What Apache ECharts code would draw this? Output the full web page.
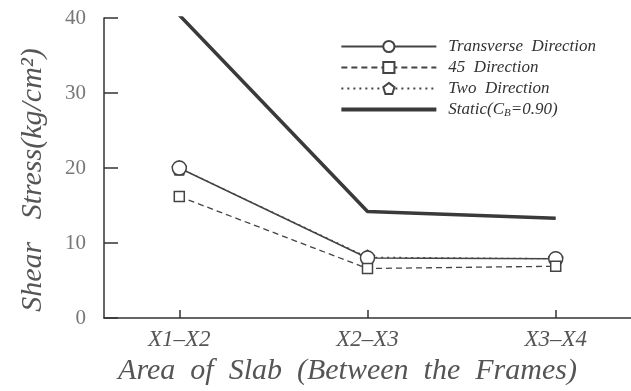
<!DOCTYPE html>
<html>
<head>
<meta charset="utf-8">
<script src="https://cdn.jsdelivr.net/npm/echarts@6/dist/echarts.min.js"></script>
<style>
html,body{margin:0;padding:0;background:#fff;}
#chart{width:631px;height:391px;}
</style>
</head>
<body>
<div id="chart"></div>
<script>
// data
var categories = ['X1\u2013X2', 'X2\u2013X3', 'X3\u2013X4']
var transverse = [20, 8.0, 7.9]
var dir45 = [16.2, 6.6, 6.9]
var twoDir = [20, 8.1, 7.9]
var staticCb = [40.4, 14.2, 13.3]
var yTicks = [0, 10, 20, 30, 40]

var serif = '"Liberation Serif", "DejaVu Serif", serif'
var pentagon = 'path://M0,-1 L0.951,-0.309 L0.588,0.809 L-0.588,0.809 L-0.951,-0.309 Z'

function pts(arr){
    let out = []
    for(let i = 0;i<arr.length;i++){
        out.push([i, arr[i]])
    }
    return out
}

let chart = echarts.init(document.getElementById('chart'))
chart.setOption({
    animation:false,
    grid:{left:104, right:0, top:18, bottom:73},
    legend:{
        right:30,
        top:33,
        orient:'vertical',
        itemWidth:95,
        itemHeight:14,
        itemGap:4,
        textStyle:{
            fontFamily:serif,
            fontStyle:'italic',
            fontSize:17,
            color:'#333',
            padding:[0,0,0,7],
            rich:{
                sub:{fontSize:11, fontStyle:'italic', fontFamily:serif, color:'#333', verticalAlign:'bottom', padding:[7,0,0,0]}
            }
        },
        formatter:function(name){
            if(name==='Static'){ return 'Static(C{sub|B}=0.90)' }
            return name
        },
        data:['Transverse  Direction','45  Direction','Two  Direction',
            {name:'Static', itemStyle:{opacity:0}, lineStyle:{width:4}}]
    },
    xAxis:{
        type:'value',
        min:-0.4,
        max:2.4,
        interval:1,
        axisLine:{lineStyle:{color:'#333', width:1.5}},
        axisTick:{inside:true, length:8, lineStyle:{color:'#333', width:1.5},
            customValues:[0,1,2]},
        splitLine:{show:false},
        axisLabel:{
            customValues:[0,1,2],
            formatter:function(v){ return categories[Math.round(v)] },
            fontFamily:serif, fontStyle:'italic', fontSize:23, color:'#555', margin:10
        },
        name:'Area  of  Slab  (Between  the  Frames)',
        nameLocation:'middle',
        nameGap:28,
        nameTextStyle:{fontFamily:serif, fontStyle:'italic', fontSize:30, color:'#555', padding:[0,40,0,0]}
    },
    yAxis:{
        type:'value',
        min:0,
        max:40,
        interval:10,
        axisLine:{show:true, onZero:false, lineStyle:{color:'#333', width:1.5}},
        axisTick:{show:true, inside:true, length:14, lineStyle:{color:'#333', width:1.5}},
        splitLine:{show:false},
        axisLabel:{
            fontFamily:serif, fontSize:21, color:'#777', margin:18,
            formatter:function(v){ return yTicks.indexOf(v)>=0 ? String(v) : '' }
        },
        name:'Shear   Stress(kg/cm\u00B2)',
        nameLocation:'middle',
        nameGap:56,
        nameTextStyle:{fontFamily:serif, fontStyle:'italic', fontSize:30, color:'#555', padding:[0,0,0,-24]}
    },
    series:[
        {
            name:'Static',
            type:'line',
            data:pts(staticCb),
            symbol:'none',
            lineStyle:{color:'#3a3a3a', width:3.5},
            itemStyle:{color:'#3a3a3a'},
            z:3
        },
        {
            name:'Two  Direction',
            type:'line',
            data:pts(twoDir),
            symbol:pentagon,
            symbolSize:14,
            lineStyle:{color:'#444', width:1.3, type:[2,4]},
            itemStyle:{color:'#fff', borderColor:'#444', borderWidth:1.5},
            z:4
        },
        {
            name:'Transverse  Direction',
            type:'line',
            data:pts(transverse),
            symbol:'circle',
            symbolSize:14,
            lineStyle:{color:'#444', width:1.5},
            itemStyle:{color:'#fff', borderColor:'#444', borderWidth:1.5},
            z:5
        },
        {
            name:'45  Direction',
            type:'line',
            data:pts(dir45),
            symbol:'rect',
            symbolSize:10,
            lineStyle:{color:'#444', width:1.3, type:[6,4]},
            itemStyle:{color:'#fff', borderColor:'#444', borderWidth:1.5},
            z:5
        }
    ]
})
</script>
</body>
</html>
